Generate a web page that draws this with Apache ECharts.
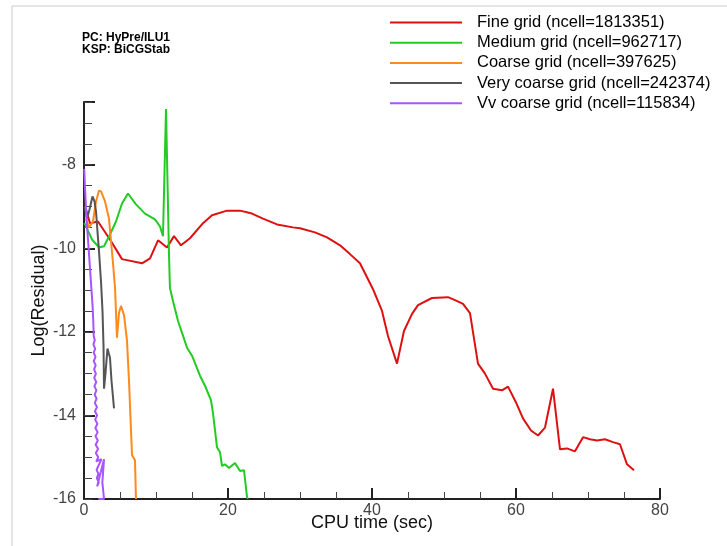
<!DOCTYPE html>
<html>
<head>
<meta charset="utf-8">
<script src="https://cdn.jsdelivr.net/npm/echarts@6/dist/echarts.min.js"></script>
<style>
html,body{margin:0;padding:0;background:#fff;}
#chart{width:727px;height:546px;}
</style>
</head>
<body>
<div id="chart"></div>
<script>
// ---- data ----
const seriesNames = [
  'Fine grid (ncell=1813351)',
  'Medium grid (ncell=962717)',
  'Coarse grid (ncell=397625)',
  'Very coarse grid (ncell=242374)',
  'Vv coarse grid (ncell=115834)'
];
const fineGrid = [
  [0.28,-9.07],[0.83,-9.40],[1.94,-9.36],[3.61,-9.79],[5.28,-10.26],[8.06,-10.36],
  [9.17,-10.24],[10.28,-9.81],[11.53,-9.98],[12.5,-9.71],[13.47,-9.93],[14.72,-9.76],
  [16.53,-9.40],[17.78,-9.21],[19.86,-9.10],[21.67,-9.10],[23.33,-9.17],[24.86,-9.29],
  [26.81,-9.43],[29.03,-9.50],[30.0,-9.52],[32.08,-9.62],[33.75,-9.74],[35.56,-9.93],
  [36.94,-10.14],[38.33,-10.36],[40.14,-10.98],[41.39,-11.50],[42.22,-12.10],[43.47,-12.76],
  [44.44,-11.98],[45.56,-11.57],[46.39,-11.36],[48.33,-11.19],[50.56,-11.17],[51.53,-11.24],
  [52.64,-11.33],[53.61,-11.55],[54.72,-12.76],[55.69,-13.0],[56.81,-13.36],[58.06,-13.40],
  [58.89,-13.31],[60.0,-13.69],[60.97,-14.07],[62.08,-14.36],[63.06,-14.48],[64.03,-14.29],
  [65.14,-13.36],[66.11,-14.81],[67.08,-14.79],[68.19,-14.86],[69.31,-14.52],[70.28,-14.57],
  [71.25,-14.60],[72.36,-14.57],[73.47,-14.64],[74.44,-14.69],[75.42,-15.17],[76.39,-15.31]
];
const mediumGrid = [
  [0.07,-9.40],[1.11,-9.79],[2.08,-9.98],[2.78,-9.95],[3.61,-9.67],[4.44,-9.36],
  [5.28,-8.93],[6.11,-8.69],[7.22,-8.95],[8.47,-9.17],[9.86,-9.31],[10.56,-9.48],
  [10.97,-9.71],[11.39,-6.67],[11.81,-10.19],[11.94,-10.95],[12.36,-11.26],[13.06,-11.74],
  [13.61,-12.02],[14.31,-12.38],[15.0,-12.57],[16.11,-13.05],[16.81,-13.29],[17.64,-13.64],
  [17.92,-13.95],[18.47,-14.76],[18.89,-14.88],[19.17,-15.21],[19.58,-15.17],[20.14,-15.26],
  [20.97,-15.14],[21.67,-15.33],[22.22,-15.31],[22.64,-15.95],[22.75,-16.0]
];
const coarseGrid = [
  [0.28,-9.29],[0.69,-9.50],[1.25,-9.36],[1.67,-8.88],[2.08,-8.62],[2.36,-8.64],
  [2.92,-8.88],[3.47,-9.29],[3.75,-9.83],[4.03,-10.36],[4.31,-10.95],[4.58,-12.14],
  [4.86,-11.55],[5.14,-11.38],[5.56,-11.60],[5.97,-12.21],[6.25,-13.17],[6.53,-14.36],
  [6.67,-14.95],[7.08,-15.07],[7.22,-16.0]
];
const veryCoarseGrid = [
  [0.10,-9.0],[0.42,-9.29],[0.76,-9.07],[1.18,-8.76],[1.46,-8.88],[1.67,-9.12],
  [1.85,-9.55],[2.08,-10.07],[2.36,-10.79],[2.57,-11.5],[2.71,-12.33],[2.78,-13.36],
  [2.99,-12.98],[3.26,-12.40],[3.61,-12.62],[3.82,-13.17],[4.17,-13.83]
];
const vvCoarseGrid = [
  [0.03,-8.1],[0.15,-8.6],[0.35,-9.3],[0.6,-9.9],[0.8,-10.4],[1.0,-10.9],[1.2,-11.4],
  [1.3,-11.8],[1.35,-12.1],[1.5,-12.2],[1.3,-12.3],[1.55,-12.4],[1.35,-12.5],[1.6,-12.6],
  [1.35,-12.7],[1.62,-12.8],[1.4,-12.9],[1.65,-13.0],[1.42,-13.1],[1.7,-13.2],[1.45,-13.3],
  [1.72,-13.4],[1.48,-13.5],[1.75,-13.6],[1.5,-13.7],[1.8,-13.8],[1.52,-13.9],[1.82,-14.0],
  [1.55,-14.1],[1.86,-14.2],[1.58,-14.3],[1.9,-14.4],[1.6,-14.5],[1.92,-14.6],[1.62,-14.7],
  [1.95,-14.8],[1.65,-14.9],[1.98,-15.0],[1.7,-15.1],[2.42,-15.05],[1.75,-15.3],[2.0,-15.4],
  [1.78,-15.5],[2.05,-15.6],[1.82,-15.7],[2.78,-15.05],[2.55,-15.6],[2.78,-16.0],[2.0,-16.0]
];
const seriesColors = ['#dd1111','#22cc22','#ff8a1c','#555555','#a855ff'];
const xTickValues = [0,20,40,60,80];
const yTickValues = [-16,-14,-12,-10,-8];
const annotationLines = ['PC: HyPre/ILU1','KSP: BiCGStab'];

// ---- chart ----
const chart = echarts.init(document.getElementById('chart'), null, {renderer:'canvas'});
const allData = [fineGrid, mediumGrid, coarseGrid, veryCoarseGrid, vvCoarseGrid];
const FONT = 'Liberation Sans, Arial, sans-serif';

const option = {
  animation: false,
  backgroundColor: '#fff',
  grid: {left: 84, right: 67, top: 102, bottom: 47, containLabel: false},
  legend: {
    orient: 'vertical',
    left: 385, top: 9,
    icon: 'rect', itemWidth: 72, itemHeight: 2, itemGap: 3.2,
    textStyle: {fontFamily: FONT, fontSize: 16.5, color: '#000', lineHeight: 16.5, padding: [0,0,0,10]},
    data: seriesNames
  },
  xAxis: [{
    type: 'value', min: xTickValues[0], max: xTickValues[xTickValues.length-1], interval: 20,
    name: 'CPU time (sec)', nameLocation: 'middle', nameGap: 15, nameMoveOverlap: false,
    nameTextStyle: {fontFamily: FONT, fontSize: 18, color: '#111'},
    axisLine: {show: true, lineStyle: {color: '#222', width: 2}},
    axisTick: {show: true, inside: true, length: 11, lineStyle: {color: '#222', width: 2}},
    minorTick: {show: true, splitNumber: 4, length: 7, lineStyle: {color: '#444', width: 1}},
    axisLabel: {fontFamily: FONT, fontSize: 16, color: '#444', margin: 4},
    splitLine: {show: false}
  }],
  yAxis: [{
    type: 'value', min: yTickValues[0], max: -6.5, interval: 2,
    name: 'Log(Residual)', nameLocation: 'middle', nameGap: 36, nameRotate: 90, nameMoveOverlap: false,
    nameTextStyle: {fontFamily: FONT, fontSize: 18, color: '#111'},
    axisLine: {show: true, lineStyle: {color: '#222', width: 2}},
    axisTick: {show: true, inside: true, length: 11, lineStyle: {color: '#222', width: 2}},
    axisLabel: {fontFamily: FONT, fontSize: 16, color: '#444', margin: 8,
      formatter: v => (yTickValues.indexOf(v) >= 0 ? String(v) : '')},
    splitLine: {show: false}
  }, {
    type: 'value', min: yTickValues[0], max: -6.5, interval: 0.5, position: 'left', offset: 0,
    axisLine: {show: false},
    axisTick: {show: true, inside: true, length: 8, lineStyle: {color: '#444', width: 1}},
    axisLabel: {show: false},
    splitLine: {show: false}
  }],
  graphic: [
    {type: 'rect', shape: {x: 12, y: 6, width: 900, height: 700}, style: {fill: 'none', stroke: '#cccccc', lineWidth: 1}, silent: true},
    {type: 'text', left: 82, top: 31, style: {text: annotationLines.join('\n'), font: 'bold 12px ' + FONT, fill: '#000', lineHeight: 12.5}}
  ],
  series: seriesNames.map((n, i) => ({
    name: n, type: 'line', data: allData[i], symbol: 'none', showSymbol: false,
    xAxisIndex: 0, yAxisIndex: 0, clip: false,
    lineStyle: {color: seriesColors[i], width: 2}, itemStyle: {color: seriesColors[i]}
  }))
};
chart.setOption(option);
</script>
</body>
</html>
